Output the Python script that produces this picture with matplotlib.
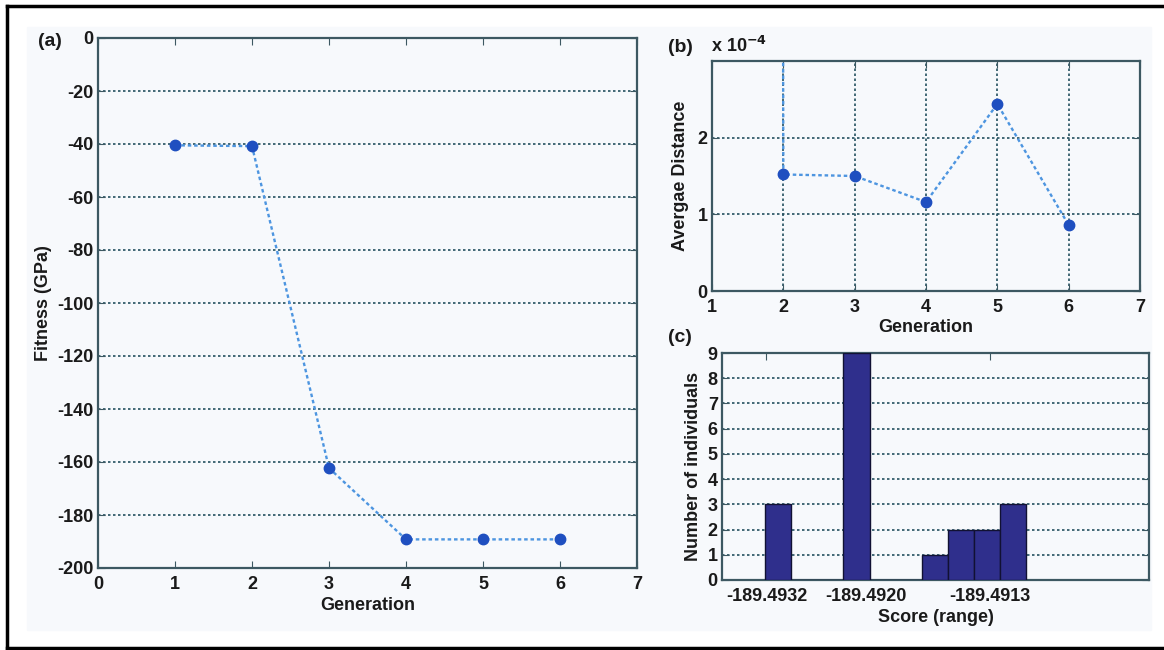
import numpy as np
import matplotlib.pyplot as plt
from matplotlib.patches import Rectangle
from matplotlib.lines import Line2D

plt.rcParams['font.family'] = ['Liberation Sans', 'DejaVu Sans']
plt.rcParams['font.weight'] = 'bold'
plt.rcParams['axes.labelweight'] = 'bold'
plt.rcParams['axes.unicode_minus'] = False
plt.rcParams['mathtext.default'] = 'bf'

# (a) best fitness per generation
gen_a = [1, 2, 3, 4, 5, 6]
fitness = [-40.5, -40.8, -162.3, -189.2, -189.2, -189.2]

# (b) average distance between individuals (x 1e-4), gen 1 is off the scale
gen_b = [1, 2, 3, 4, 5, 6]
avg_dist = [500.0, 1.52, 1.50, 1.16, 2.44, 0.86]

# (c) histogram of scores
bin_idx = [0, 1, 2, 3, 4, 5, 6, 7, 8, 9]
counts = [3, 0, 0, 9, 0, 0, 1, 2, 2, 3]
score_tick_pos = [-0.45, 3.35, 8.1]
score_labels = ['-189.4932', '-189.4920', '-189.4913']

W, H = 1164, 650
fig = plt.figure(figsize=(W / 100, H / 100), dpi=100)
fig.patch.set_facecolor('white')

bg = '#f7f9fc'
fig.patches.append(Rectangle((27 / W, 20 / H), 1124 / W, 603 / H,
                             transform=fig.transFigure, color=bg, zorder=-5))
for xs, ys in [([7, W], [644, 644]), ([7, 7], [2, 644]), ([7, W], [2, 2])]:
    fig.lines.append(Line2D([x / W for x in xs], [y / H for y in ys],
                            transform=fig.transFigure, color='black', lw=2.5,
                            zorder=-4))


def box(l, t, r, b):
    return [l / W, (H - b) / H, (r - l) / W, (b - t) / H]


spine_c = '#3d5862'
grid_c = '#24505f'
line_c = '#4d95e0'
mark_c = '#1f4fc0'
fs = 13
txt_c = '#1a1a1a'


def style(ax):
    ax.set_facecolor(bg)
    for s in ax.spines.values():
        s.set_color(spine_c)
        s.set_linewidth(1.6)
    ax.tick_params(direction='in', top=True, right=True, length=5,
                   color=spine_c, labelsize=fs, labelcolor=txt_c)
    ax.tick_params(axis='x', pad=6)
    ax.tick_params(axis='y', pad=3)


# (a)
ax1 = fig.add_axes(box(98, 38, 637, 568))
style(ax1)
ax1.plot(gen_a, fitness, linestyle=(0, (1.5, 1.2)), color=line_c, lw=1.7,
         marker='o', ms=7.5, mfc=mark_c, mec=mark_c)
ax1.set_xlim(0, 7)
ax1.set_ylim(-200, 0)
ax1.set_yticks(np.arange(-200, 1, 20))
ax1.yaxis.grid(True, linestyle=(0, (1.5, 1.5)), color=grid_c, lw=1.2)
ax1.set_xlabel('Generation', fontsize=fs, labelpad=3, color=txt_c)
ax1.set_ylabel('Fitness (GPa)', fontsize=fs, labelpad=4, color=txt_c)
fig.text(50 / W, 1 - 42 / H, '(a)', fontsize=fs + 1, ha='center', va='center',
         color=txt_c)

# (b)
ax2 = fig.add_axes(box(712, 61, 1140, 291))
style(ax2)
ax2.plot(gen_b, avg_dist, linestyle=(0, (1.5, 1.2)), color=line_c, lw=1.7,
         marker='o', ms=7.5, mfc=mark_c, mec=mark_c)
ax2.set_xlim(1, 7)
ax2.set_ylim(0, 3)
ax2.set_yticks([0, 1, 2])
ax2.grid(True, linestyle=(0, (1.5, 1.5)), color=grid_c, lw=1.2)
ax2.set_xlabel('Generation', fontsize=fs, labelpad=2, color=txt_c)
ax2.set_ylabel('Avergae Distance', fontsize=fs, labelpad=6, color=txt_c)
fig.text(680 / W, 1 - 48 / H, '(b)', fontsize=fs + 1, ha='center', va='center',
         color=txt_c)
fig.text(711 / W, 1 - 46 / H, r'x 10$^{-4}$', fontsize=fs, ha='left',
         va='center', color=txt_c)

# (c)
ax3 = fig.add_axes(box(722, 353, 1149, 580))
style(ax3)
ax3.bar(bin_idx, counts, width=1.0, color='#2f2f8c', edgecolor='#111133',
        lw=1.0, zorder=3)
ax3.set_xlim(-2.15, 14.2)
ax3.set_ylim(0, 9)
ax3.set_yticks(range(10))
ax3.set_xticks(score_tick_pos)
ax3.set_xticklabels(score_labels)
ax3.yaxis.grid(True, linestyle=(0, (1.5, 1.5)), color=grid_c, lw=1.2)
ax3.set_axisbelow(True)
ax3.set_xlabel('Score (range)', fontsize=fs, labelpad=3, color=txt_c)
ax3.set_ylabel('Number of individuals', fontsize=fs, labelpad=4, color=txt_c)
fig.text(680 / W, 1 - 337 / H, '(c)', fontsize=fs + 1, ha='center', va='center',
         color=txt_c)

fig.savefig('out.png', dpi=100)
